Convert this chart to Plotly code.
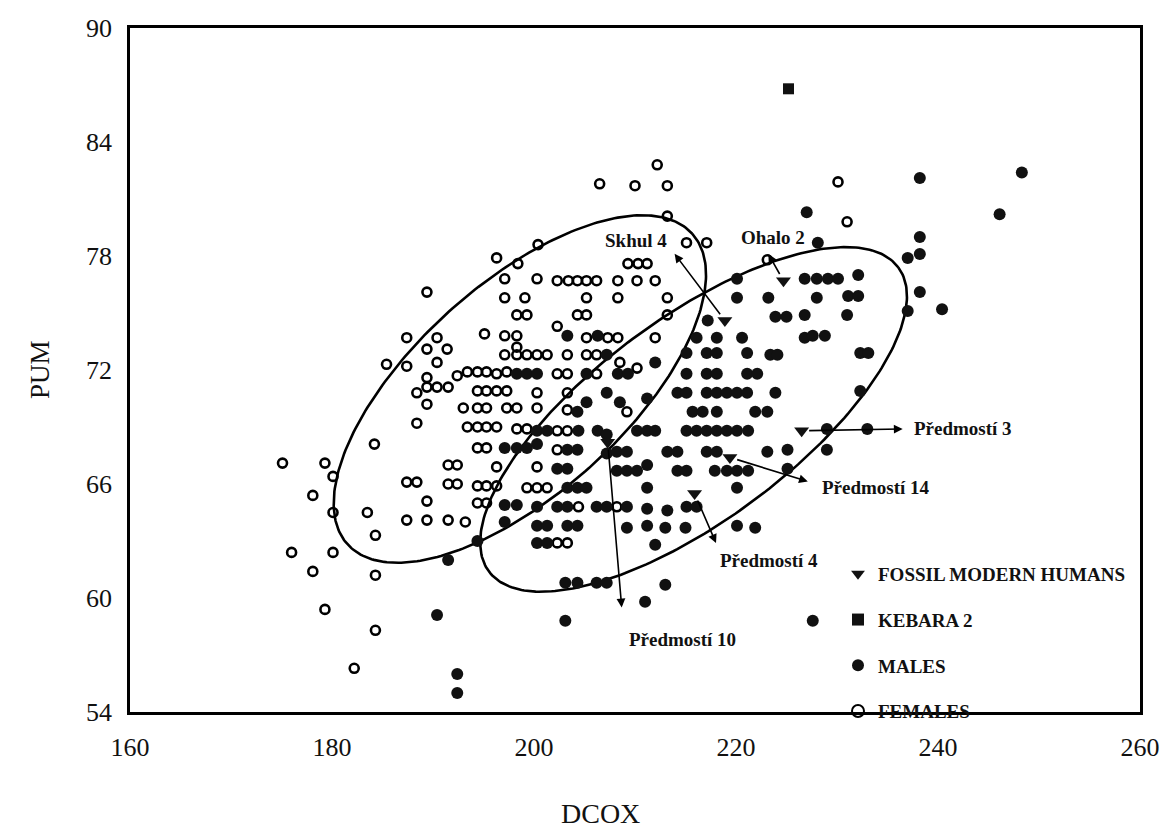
import numpy as np
import plotly.graph_objects as go

# ---------------- data ----------------
females_x = [175.1, 176.0, 178.1, 179.3, 180.1, 180.1, 180.1, 178.1, 179.3, 182.2, 183.5, 184.2, 184.3, 184.3, 184.3,
             185.4, 187.4, 187.4, 188.4, 188.4, 187.4, 188.4, 187.4,
             189.4, 189.4, 190.4, 191.4, 190.4, 189.4, 189.4, 190.4, 191.5, 189.4, 191.5, 192.4, 191.5, 192.4, 189.4, 189.4, 191.5, 193.2,
             212.2, 206.5, 210.0, 213.2, 213.2, 200.4, 196.3, 198.4, 215.1, 217.1, 223.1, 230.1, 231.0,
             197.1, 200.3, 202.3, 203.4, 204.3, 205.2, 206.2, 208.3, 210.2, 212.0,
             209.3, 210.3, 211.2,
             197.1, 199.1, 205.2, 208.3, 213.2,
             198.3, 199.3, 204.3, 205.2, 213.2,
             195.1, 197.1, 198.3, 202.3, 205.2, 207.3, 208.3, 212.0, 198.3,
             197.1, 198.3, 199.3, 200.3, 201.3, 203.3, 205.2, 206.2, 208.5, 210.2,
             192.4, 193.4, 194.4, 195.3, 196.3, 197.3, 202.3, 203.3, 206.2,
             194.4, 195.3, 196.3, 197.3, 200.3, 203.3,
             193.0, 194.4, 195.3, 197.3, 198.3, 200.3, 203.3, 209.2,
             193.4, 194.4, 195.3, 196.3, 198.3, 199.3, 202.3, 203.3,
             202.3, 194.4, 195.3,
             196.3, 200.3,
             194.4, 195.3, 196.3, 199.3, 200.3, 201.3,
             194.4, 195.3, 204.4, 208.2,
             202.3, 203.3]
females_y = [67.1, 62.4, 65.4, 67.1, 66.4, 64.5, 62.4, 61.4, 59.4, 56.3, 64.5, 68.1, 63.3, 61.2, 58.3,
             72.3, 73.7, 72.2, 70.8, 69.2, 66.1, 66.1, 64.1,
             76.1, 73.1, 73.7, 73.1, 72.4, 71.6, 71.1, 71.1, 71.1, 70.2, 67.0, 67.0, 66.0, 66.0, 65.1, 64.1, 64.1, 64.0,
             82.8, 81.8, 81.7, 81.7, 80.1, 78.6, 77.9, 77.6, 78.7, 78.7, 77.8, 81.9, 79.8,
             76.8, 76.8, 76.7, 76.7, 76.7, 76.7, 76.7, 76.7, 76.7, 76.7,
             77.6, 77.6, 77.6,
             75.8, 75.8, 75.8, 75.8, 75.8,
             74.9, 74.9, 74.9, 74.9, 74.9,
             73.9, 73.8, 73.8, 74.3, 73.7, 73.7, 73.7, 73.7, 73.2,
             72.8, 72.8, 72.8, 72.8, 72.8, 72.8, 72.8, 72.8, 72.4, 72.1,
             71.7, 71.9, 71.9, 71.9, 71.8, 71.9, 71.8, 71.8, 71.8,
             70.9, 70.9, 70.9, 70.9, 70.8, 70.8,
             70.0, 70.0, 70.0, 70.0, 70.0, 70.0, 69.9, 69.8,
             69.0, 69.0, 69.0, 69.0, 68.9, 68.9, 68.8, 68.8,
             67.8, 67.9, 67.9,
             66.9, 66.9,
             65.9, 65.9, 65.9, 65.8, 65.8, 65.8,
             65.0, 65.0, 64.8, 64.8,
             62.9, 62.9]

males_x = [238.2, 248.3, 246.1, 227.0, 228.1, 238.2, 237.0, 238.2,
           220.1, 226.8, 228.0, 229.1, 230.1, 232.1,
           220.1, 223.2, 228.0, 231.1, 232.1, 238.2,
           223.9, 225.0, 226.8, 231.0, 237.0, 240.4, 217.2,
           203.3, 206.3, 216.1, 218.1, 220.6, 226.8, 227.6, 228.8,
           207.2, 215.1, 217.1, 218.1, 221.1, 223.4, 224.1, 232.3, 233.1, 212.0,
           198.3, 199.3, 200.3, 205.2, 208.3, 209.3, 215.1, 217.1, 218.1, 221.1, 222.1,
           207.2, 214.2, 215.1, 217.1, 218.1, 219.1, 220.1, 221.1, 223.9, 232.3, 211.2,
           204.3, 205.2, 208.5, 215.7, 216.7, 218.1, 221.9, 223.1,
           200.3, 201.3, 204.4, 206.3, 207.2, 210.2, 211.2, 212.0, 215.1, 216.1, 217.1, 218.1, 219.1, 220.1, 221.2, 229.0, 233.0,
           197.1, 198.3, 199.3, 200.3, 203.3, 204.3, 207.2, 208.2, 209.2, 213.2, 214.2, 217.1, 218.1, 223.1, 225.1, 229.0,
           202.3, 203.3, 208.2, 209.2, 210.2, 211.2, 214.2, 215.1, 217.9, 219.1, 220.1, 221.2, 225.1,
           203.3, 204.3, 205.2, 211.2, 220.1,
           197.1, 198.3, 200.3, 202.3, 203.3, 206.2, 207.2, 209.2, 211.2, 213.2, 215.1, 216.1,
           197.1, 200.3, 201.3, 203.3, 204.3, 209.2, 211.2, 213.0, 215.0, 220.1, 221.9,
           200.3, 201.3, 194.4, 212.0, 191.5,
           203.1, 204.3, 206.2, 207.2, 213.0,
           211.0, 190.4, 203.1, 227.6, 192.4, 192.4]
males_y = [82.1, 82.4, 80.2, 80.3, 78.7, 79.0, 77.9, 78.1,
           76.8, 76.8, 76.8, 76.8, 76.8, 77.0,
           75.8, 75.8, 75.8, 75.9, 75.9, 76.1,
           74.8, 74.8, 74.9, 74.9, 75.1, 75.2, 74.6,
           73.8, 73.8, 73.7, 73.7, 73.7, 73.7, 73.8, 73.8,
           72.8, 72.9, 72.9, 72.9, 72.9, 72.8, 72.8, 72.9, 72.9, 72.4,
           71.8, 71.8, 71.8, 71.8, 71.8, 71.8, 71.8, 71.8, 71.8, 71.8, 71.8,
           70.8, 70.8, 70.8, 70.8, 70.8, 70.8, 70.8, 70.8, 70.8, 70.9, 70.5,
           69.8, 70.3, 70.3, 69.8, 69.8, 69.8, 69.8, 69.8,
           68.8, 68.8, 68.8, 68.8, 68.6, 68.8, 68.8, 68.8, 68.8, 68.8, 68.8, 68.8, 68.8, 68.8, 68.8, 68.9, 68.9,
           67.9, 67.9, 67.9, 68.1, 67.8, 67.8, 67.6, 67.7, 67.7, 67.7, 67.7, 67.7, 67.7, 67.7, 67.8, 67.8,
           66.8, 66.8, 66.7, 66.7, 66.7, 67.0, 66.7, 66.7, 66.7, 66.7, 66.7, 66.7, 66.8,
           65.8, 65.8, 65.8, 65.8, 65.8,
           64.9, 64.9, 64.8, 64.8, 64.8, 64.8, 64.8, 64.8, 64.7, 64.6, 64.8, 64.8,
           64.0, 63.8, 63.8, 63.8, 63.8, 63.7, 63.8, 63.7, 63.7, 63.8, 63.7,
           62.9, 62.9, 63.0, 62.8, 62.0,
           60.8, 60.8, 60.8, 60.8, 60.7,
           59.8, 59.1, 58.8, 58.8, 56.0, 55.0]

fossil_names = ["Skhul 4", "Ohalo 2", "Předmostí 3", "Předmostí 14", "Předmostí 4", "Předmostí 10"]
fossil_x = [218.9, 224.7, 226.5, 219.4, 215.9, 207.3]
fossil_y = [74.6, 76.7, 68.8, 67.4, 65.5, 68.2]

kebara_x = [225.2]
kebara_y = [86.8]

# arrow head and label anchor for each fossil (data units)
arrow_head_x = [213.8, 223.1, 236.7, 227.3, 218.1, 208.7]
arrow_head_y = [78.2, 78.2, 68.9, 66.1, 62.8, 59.4]
label_x = [213.4, 223.7, 237.4, 228.3, 218.2, 209.2]
label_y = [78.8, 79.0, 68.9, 65.8, 62.0, 57.8]
label_anchor = ["right", "center", "left", "left", "left", "left"]

x_ticks = [160, 180, 200, 220, 240, 260]
y_ticks = [54, 60, 66, 72, 78, 84, 90]

# ellipses: centre (data units), semi-axes (display px), angle (deg)
ellipse_cx = [198.6, 215.8]
ellipse_cy = [71.0, 69.4]
ellipse_a = [232, 255]
ellipse_b = [105, 101]
ellipse_ang = [42, 36.6]

# ---------------- layout geometry ----------------
OFF = 8                      # default page body margin
PL, PT, PR, PB = 130, 28, 1140, 712   # plot box in window pixels
W, H = 1160, 821
ML, MT = PL - OFF, PT - OFF
MR, MB = (OFF + W) - PR, (OFF + H) - PB
XR = [160, 260]
YR = [54, 90]
px_x = (PR - PL) / (XR[1] - XR[0])
px_y = (PB - PT) / (YR[1] - YR[0])


def paper_x(px):
    return (px - PL) / (PR - PL)


def paper_y(py):
    return (PB - py) / (PB - PT)


SERIF = "Liberation Serif, Times New Roman, serif"

fig = go.Figure()

# ellipses
t = np.linspace(0, 2 * np.pi, 300)
for cx, cy, a, b, ang in zip(ellipse_cx, ellipse_cy, ellipse_a, ellipse_b, ellipse_ang):
    th = np.deg2rad(ang)
    u = a * np.cos(t) * np.cos(th) - b * np.sin(t) * np.sin(th)
    v = a * np.cos(t) * np.sin(th) + b * np.sin(t) * np.cos(th)
    fig.add_trace(go.Scatter(x=cx + u / px_x, y=cy + v / px_y, mode="lines",
                             line=dict(color="black", width=2.6), hoverinfo="skip",
                             showlegend=False))

fig.add_trace(go.Scatter(x=females_x, y=females_y, mode="markers", name="<b>FEMALES</b>",
                         legendrank=4, legendgroup="f",
                         marker=dict(symbol="circle-open", size=9, color="black",
                                     line=dict(width=2.6, color="black"))))
fig.add_trace(go.Scatter(x=males_x, y=males_y, mode="markers", name="<b>MALES</b>",
                         legendrank=3, legendgroup="m",
                         marker=dict(symbol="circle", size=12, color="#111111")))
fig.add_trace(go.Scatter(x=kebara_x, y=kebara_y, mode="markers", name="<b>KEBARA 2</b>",
                         legendrank=2, legendgroup="k",
                         marker=dict(symbol="square", size=11, color="#111111")))
fig.add_trace(go.Scatter(x=fossil_x, y=fossil_y, mode="markers", name="<b>FOSSIL MODERN HUMANS</b>",
                         legendrank=1, legendgroup="fo", text=fossil_names,
                         marker=dict(symbol="triangle-down", size=13, color="#111111")))

# arrows and labels
for i, name in enumerate(fossil_names):
    fig.add_annotation(x=arrow_head_x[i], y=arrow_head_y[i], ax=fossil_x[i], ay=fossil_y[i],
                       xref="x", yref="y", axref="x", ayref="y", text="",
                       showarrow=True, arrowhead=2, arrowsize=1.1, arrowwidth=1.6,
                       arrowcolor="black", standoff=2, startstandoff=6)
    fig.add_annotation(x=label_x[i], y=label_y[i], xref="x", yref="y", text="<b>%s</b>" % name,
                       showarrow=False, xanchor=label_anchor[i], yanchor="middle",
                       font=dict(family=SERIF, size=19, color="#111111"))

# axis titles
fig.add_annotation(x=paper_x(600), y=paper_y(813), xref="paper", yref="paper",
                   xanchor="center", yanchor="middle",
                   text="DCOX", showarrow=False, font=dict(family=SERIF, size=28, color="#111111"))
fig.add_annotation(x=paper_x(40), y=paper_y(370), xref="paper", yref="paper", textangle=-90,
                   xanchor="center", yanchor="middle",
                   text="PUM", showarrow=False, font=dict(family=SERIF, size=27, color="#111111"))

fig.update_layout(
    width=W, height=H,
    margin=dict(l=ML, r=MR, t=MT, b=MB, autoexpand=False),
    paper_bgcolor="white", plot_bgcolor="white",
    font=dict(family=SERIF, color="#111111"),
    showlegend=True,
    legend=dict(x=paper_x(838), y=paper_y(555), xanchor="left", yanchor="top",
                bgcolor="rgba(0,0,0,0)", tracegroupgap=18, traceorder="grouped",
                font=dict(family=SERIF, size=19, color="#111111"),
                itemsizing="constant", itemwidth=30),
)
fig.update_xaxes(range=XR, tickvals=x_ticks, showgrid=False, zeroline=False,
                 showline=True, linecolor="black", linewidth=2.6, mirror=True,
                 ticks="", ticklabelstandoff=10, automargin=False,
                 tickfont=dict(family=SERIF, size=26, color="#111111"))
fig.update_yaxes(range=YR, tickvals=y_ticks, showgrid=False, zeroline=False,
                 showline=True, linecolor="black", linewidth=2.6, mirror=True,
                 ticks="", ticklabelstandoff=10, automargin=False,
                 tickfont=dict(family=SERIF, size=26, color="#111111"))

fig.write_html("out.html")
